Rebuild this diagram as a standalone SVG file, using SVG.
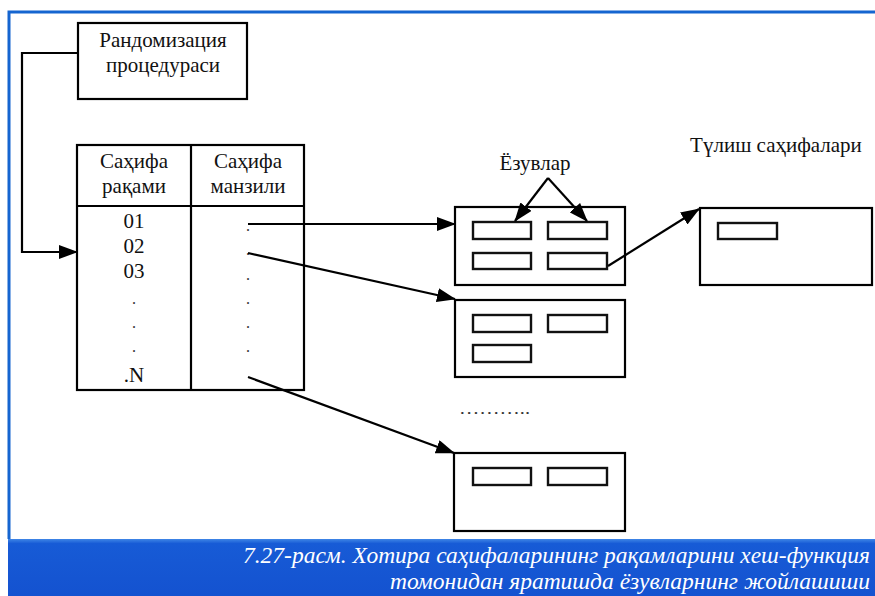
<svg xmlns="http://www.w3.org/2000/svg" width="875" height="596" viewBox="0 0 875 596">
<defs>
<marker id="arr" markerUnits="userSpaceOnUse" markerWidth="20" markerHeight="14" refX="18" refY="7" orient="auto">
<path d="M0,0 L19,7 L0,14 Z" fill="#000"/>
</marker>
<linearGradient id="bar" x1="0" y1="0" x2="0" y2="1">
<stop offset="0" stop-color="#3f86e6"/>
<stop offset="0.08" stop-color="#175bd6"/>
<stop offset="1" stop-color="#1452d0"/>
</linearGradient>
</defs>
<style>
.box{fill:#fff;stroke:#000;stroke-width:2.2}
.rec{fill:#fff;stroke:#111;stroke-width:2.4}
.ln{fill:none;stroke:#000;stroke-width:2.2}
.t{font-family:'Liberation Serif','DejaVu Serif',serif;font-size:21px;fill:#111;text-anchor:middle}
.dot{font-family:'Liberation Serif','DejaVu Serif',serif;font-size:16px;fill:#333;text-anchor:middle}
.cap{font-family:'Liberation Serif','DejaVu Serif',serif;font-style:italic;font-size:23px;fill:#fff;text-anchor:end}
</style>
<rect width="875" height="596" fill="#fff"/>
<path d="M9,539 V12 H875" fill="none" stroke="#1565d0" stroke-width="3"/>
<rect x="8" y="539" width="867" height="57" fill="url(#bar)"/>
<text class="cap" x="870" y="563" textLength="627" lengthAdjust="spacingAndGlyphs">7.27-расм. Хотира саҳифаларининг рақамларини хеш-функция</text>
<text class="cap" x="870" y="589" textLength="480" lengthAdjust="spacingAndGlyphs">томонидан яратишда ёзувларнинг жойлашиши</text>

<g id="randomization">
<rect class="box" x="78" y="23" width="169" height="76"/>
<text class="t" x="163" y="47">Рандомизация</text>
<text class="t" x="163" y="72">процедураси</text>
</g>

<g id="table">
<rect class="box" x="77" y="145" width="227" height="245"/>
<line class="ln" x1="191" y1="145" x2="191" y2="390"/>
<line class="ln" x1="77" y1="206" x2="304" y2="206"/>
<text class="t" x="134" y="168">Саҳифа</text>
<text class="t" x="134" y="193">рақами</text>
<text class="t" x="248" y="168">Саҳифа</text>
<text class="t" x="248" y="193">манзили</text>
<text class="t" x="134" y="228">01</text>
<text class="t" x="134" y="253">02</text>
<text class="t" x="134" y="278">03</text>
<text class="dot" x="134" y="304">.</text>
<text class="dot" x="134" y="328">.</text>
<text class="dot" x="134" y="352">.</text>
<text class="t" x="134" y="382">.N</text>
<text class="dot" x="248" y="231">.</text>
<text class="dot" x="248" y="255">.</text>
<text class="dot" x="248" y="280">.</text>
<text class="dot" x="248" y="304">.</text>
<text class="dot" x="248" y="328">.</text>
<text class="dot" x="248" y="352">.</text>
</g>

<g id="bucket1">
<rect class="box" x="455" y="207" width="170" height="78"/>
<rect class="rec" x="473" y="222" width="58" height="17"/>
<rect class="rec" x="548" y="222" width="59" height="17"/>
<rect class="rec" x="473" y="253" width="58" height="16"/>
<rect class="rec" x="548" y="253" width="59" height="16"/>
</g>

<g id="bucket2">
<rect class="box" x="455" y="300" width="170" height="77"/>
<rect class="rec" x="473" y="315" width="58" height="17"/>
<rect class="rec" x="548" y="315" width="59" height="17"/>
<rect class="rec" x="473" y="345" width="58" height="17"/>
</g>

<g id="ellipsis">
<text class="dot" x="459" y="414" style="text-anchor:start" textLength="71" lengthAdjust="spacingAndGlyphs">………..</text>
</g>

<g id="bucket3">
<rect class="box" x="454" y="453" width="171" height="78"/>
<rect class="rec" x="473" y="468" width="58" height="17"/>
<rect class="rec" x="548" y="468" width="59" height="17"/>
</g>

<g id="overflow">
<rect class="box" x="700" y="208" width="172" height="77"/>
<rect class="rec" x="718" y="223" width="59" height="16"/>
</g>

<g id="labels">
<text class="t" x="535" y="170">Ёзувлар</text>
<text class="t" x="776" y="152">Түлиш саҳифалари</text>
</g>

<g id="connectors">
<polyline class="ln" points="78,53 22,53 22,252 77,252" marker-end="url(#arr)"/>
<line class="ln" x1="248" y1="224" x2="455" y2="224" marker-end="url(#arr)"/>
<line class="ln" x1="248" y1="253" x2="455" y2="299" marker-end="url(#arr)"/>
<line class="ln" x1="248" y1="377" x2="454" y2="453" marker-end="url(#arr)"/>
<line class="ln" x1="548" y1="178" x2="515" y2="221" marker-end="url(#arr)"/>
<line class="ln" x1="548" y1="178" x2="587" y2="221" marker-end="url(#arr)"/>
<line class="ln" x1="608" y1="266" x2="699" y2="209" marker-end="url(#arr)"/>
</g>
</svg>
